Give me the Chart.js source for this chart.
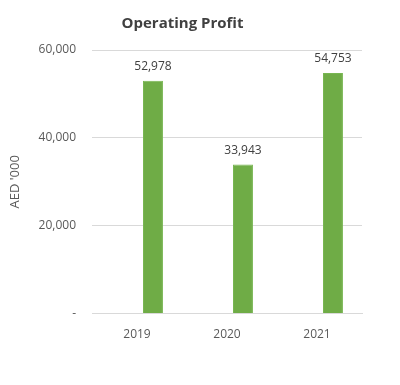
<!DOCTYPE html>
<html>
<head>
<meta charset="utf-8">
<script src="https://cdn.jsdelivr.net/npm/chart.js@4/dist/chart.umd.min.js"></script>
<style>
  html, body { margin: 0; padding: 0; background: #fff; }
  #wrap { width: 400px; height: 385px; position: relative; }
</style>
</head>
<body>
<div id="wrap"><canvas id="c" width="400" height="385"></canvas></div>
<script>
const categories = ['2019', '2020', '2021'];
const operatingProfit = [52978, 33943, 54753];
const spacerSeries = [null, null, null];
const yTicks = [0, 20000, 40000, 60000];

const FONT = "'Open Sans', 'Liberation Sans', sans-serif";
const TEXT = '#595959';

const dataLabels = {
  id: 'dataLabels',
  afterDatasetsDraw(chart) {
    const ctx = chart.ctx;
    const meta = chart.getDatasetMeta(1);
    ctx.save();
    ctx.font = '12px ' + FONT;
    ctx.fillStyle = '#404040';
    ctx.textAlign = 'center';
    ctx.textBaseline = 'bottom';
    meta.data.forEach((bar, i) => {
      const v = operatingProfit[i];
      ctx.fillText(v.toLocaleString('en-US'), bar.x, bar.y - 8);
    });
    ctx.restore();
  }
};

new Chart(document.getElementById('c'), {
  type: 'bar',
  data: {
    labels: categories,
    datasets: [
      { label: 'spacer', data: spacerSeries, backgroundColor: 'rgba(0,0,0,0)' },
      {
        label: 'Operating Profit',
        data: operatingProfit,
        backgroundColor: '#6FAC46',
        borderColor: '#78B652',
        borderWidth: 1,
        categoryPercentage: 0.71,
        barPercentage: 0.625
      }
    ]
  },
  options: {
    responsive: false,
    animation: false,
    datasets: { bar: { categoryPercentage: 0.71, barPercentage: 0.625 } },
    layout: { padding: { left: 3, right: 38, top: 15, bottom: 37 } },
    plugins: {
      legend: { display: false },
      tooltip: { enabled: false },
      title: {
        display: true,
        text: 'Operating Profit',
        color: '#404040',
        font: { family: FONT, size: 15, weight: 'bold' },
        padding: { top: 0, bottom: 17 }
      }
    },
    scales: {
      x: {
        grid: { display: false },
        border: { color: '#d9d9d9', width: 1 },
        ticks: { color: TEXT, font: { family: FONT, size: 12 }, padding: 6 }
      },
      y: {
        min: 0,
        max: 60000,
        afterBuildTicks(scale) { scale.ticks = yTicks.map(v => ({ value: v })); },
        grid: { color: '#d9d9d9', drawTicks: false },
        border: { display: false },
        ticks: {
          color: TEXT,
          font: { family: FONT, size: 12 },
          padding: 16,
          callback: v => v === 0 ? '-' : Number(v).toLocaleString('en-US')
        },
        title: {
          display: true,
          text: "AED '000",
          color: TEXT,
          font: { family: FONT, size: 13 },
          padding: { top: 4, bottom: 0 }
        }
      }
    }
  },
  plugins: [dataLabels]
});
</script>
</body>
</html>
